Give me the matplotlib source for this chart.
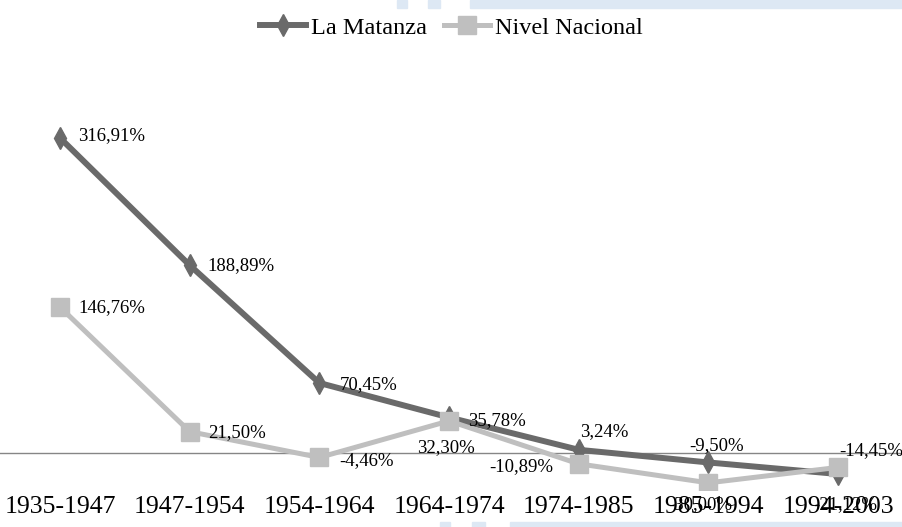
import matplotlib.pyplot as plt
from matplotlib.patches import Rectangle

periods = ['1935-1947', '1947-1954', '1954-1964', '1964-1974',
           '1974-1985', '1985-1994', '1994-2003']
la_matanza = [316.91, 188.89, 70.45, 35.78, 3.24, -9.50, -21.12]
nivel_nacional = [146.76, 21.50, -4.46, 32.30, -10.89, -30.00, -14.45]

# label offsets in points (dx, dy, ha)
lm_off = [(13, 2, 'left'), (13, 0, 'left'), (15, -1, 'left'), (14, -2, 'left'),
          (1, 13, 'left'), (6, 12, 'center'), (5, -22, 'center')]
nn_off = [(13, 0, 'left'), (13, -1, 'left'), (14, -2, 'left'), (-2, -19, 'center'),
          (-18, -2, 'right'), (-6, -16, 'center'), (1, 12, 'left')]

W, H = 902, 527
plt.rcParams['font.family'] = ['Liberation Serif', 'DejaVu Serif']

fig = plt.figure(figsize=(W / 100, H / 100), dpi=100)
ax = fig.add_axes([0, 37 / H, 1, 490 / H])

x = list(range(len(periods)))
ax.axhline(0, color='#868686', lw=1, zorder=1)
ax.plot(x, la_matanza, color='#6a6a6a', lw=4.3, marker='d', ms=11,
        label='La Matanza', zorder=3)
ax.plot(x, nivel_nacional, color='#bfbfbf', lw=3.6, marker='s', ms=13,
        label='Nivel Nacional', zorder=4)

def fmt(v):
    return f"{v:.2f}".replace('.', ',') + '%'

for xi, v, (dx, dy, ha) in zip(x, la_matanza, lm_off):
    ax.annotate(fmt(v), (xi, v), xytext=(dx, dy), textcoords='offset points',
                ha=ha, va='center', fontsize=13.5, zorder=6)
for xi, v, (dx, dy, ha) in zip(x, nivel_nacional, nn_off):
    ax.annotate(fmt(v), (xi, v), xytext=(dx, dy), textcoords='offset points',
                ha=ha, va='center', fontsize=13.5, zorder=6)

ax.set_xlim(-0.463, 6.493)
ax.set_ylim(-37.2, 455.7)
ax.set_xticks(x)
ax.set_xticklabels(periods, fontsize=18.5)
ax.tick_params(axis='x', length=0, pad=4)
ax.set_yticks([])
for s in ax.spines.values():
    s.set_visible(False)

fig.legend(loc='upper center', bbox_to_anchor=(0.5, 1.01), ncol=2, frameon=False,
           fontsize=17.5, handlelength=1.9, handletextpad=0.2, columnspacing=0.7)

# faint blue bands at the picture edges
band = '#dde8f4'
for x0, x1 in [(397, 407), (428, 440), (470, 902)]:
    fig.patches.append(Rectangle((x0 / W, 1 - 8 / H), (x1 - x0) / W, 8 / H,
                                 transform=fig.transFigure, color=band, zorder=0))
for x0, x1 in [(440, 450), (472, 485), (510, 902)]:
    fig.patches.append(Rectangle((x0 / W, 0), (x1 - x0) / W, 5 / H,
                                 transform=fig.transFigure, color=band, zorder=0))

fig.savefig('out.png', dpi=100)
